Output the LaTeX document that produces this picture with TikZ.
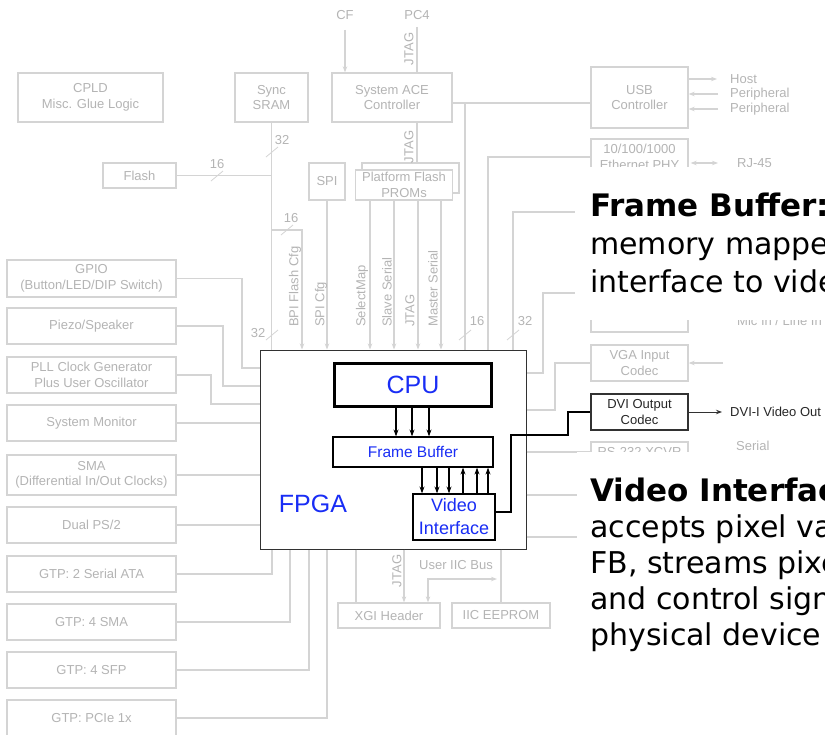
\documentclass[tikz,border=0pt]{standalone}
\usepackage{fontspec}
\setmainfont{Liberation Sans}
\newfontfamily\notefont{DejaVu Sans}
\usetikzlibrary{arrows.meta,positioning,calc}

\definecolor{lgray}{RGB}{212,212,212}
\definecolor{tgray}{RGB}{180,180,180}
\definecolor{fpgablue}{RGB}{25,45,245}
\definecolor{dkgray}{RGB}{50,50,50}

\tikzset{
  gtext/.style={text=tgray, font=\fontsize{13}{15.5}\selectfont, inner sep=0pt, align=center},
  gbox/.style={gtext, draw=lgray, line width=1.3pt, fill=white},
  leftbox/.style={gbox, minimum width=169pt, minimum height=36pt},
  gline/.style={draw=lgray, line width=1.4pt},
  garrow/.style={gline, -{Stealth[length=6pt,width=4.5pt]}},
  vlabel/.style={gtext, rotate=90},
  inbox/.style={draw=black, line width=1.2pt, fill=white, text=fpgablue, align=center, inner sep=0pt},
  inarrow/.style={draw=black, line width=1.1pt, -{Stealth[length=7pt,width=5pt]}},
  note/.style={font=\notefont\fontsize{30}{37}\selectfont, anchor=base west, inner sep=0pt},
  notehead/.style={note, font=\notefont\bfseries\fontsize{31}{37}\selectfont},
}

\begin{document}
\begin{tikzpicture}[x=1pt, y=-1pt]
    \useasboundingbox (0,0) rectangle (825,734);
    \clip (0,0) rectangle (825,734);

    % top row
    \node[gbox, minimum width=145pt, minimum height=49pt] (cpld) at (90.5,97.5) {CPLD\\Misc. Glue Logic};
    \node[gbox, minimum width=73pt, minimum height=49pt] (sram) at (271.5,97.5) {Sync\\SRAM};
    \node[gbox, minimum width=120pt, minimum height=49pt] (ace) at (392,97.5) {System ACE\\Controller};
    \node[gbox, minimum width=97pt, minimum height=61pt] (usb) at (639.5,97.5) {USB\\Controller};
    \node[gbox, minimum width=97pt, minimum height=36pt] (eth) at (639.5,157) {10/100/1000\\Ethernet PHY};
    \node[gtext] (cf) at (345,15) {CF};
    \node[gtext] (pc4) at (417,15) {PC4};
    \node[gtext, anchor=west] (host) at (730,79) {Host};
    \node[gtext, anchor=west] (per1) at (730,94) {Peripheral};
    \node[gtext, anchor=west] (per2) at (730,109) {Peripheral};
    \node[gtext, anchor=west] (rj45) at (737,163) {RJ-45};

    % configuration parts
    \node[gbox, minimum width=73pt, minimum height=25pt] (flash) at (139.5,175.5) {Flash};
    \node[gbox, minimum width=36pt, minimum height=37pt] (spi) at (327,181.5) {SPI};
    \node[gbox, minimum width=97pt, minimum height=30pt] (promb) at (410.5,178) {};
    \node[gbox, minimum width=97pt, minimum height=30pt] (prom) at (404,185) {Platform Flash\\PROMs};

    % left column
    \node[leftbox, minimum height=37pt] (gpio) at (91.5,278.5) {GPIO\\(Button/LED/DIP Switch)};
    \node[leftbox] (piezo) at (91.5,326) {Piezo/Speaker};
    \node[leftbox] (pll) at (91.5,375) {PLL Clock Generator\\Plus User Oscillator};
    \node[leftbox] (sysmon) at (91.5,423) {System Monitor};
    \node[leftbox, minimum height=40pt] (sma) at (91.5,475) {SMA\\(Differential In/Out Clocks)};
    \node[leftbox] (ps2) at (91.5,525) {Dual PS/2};
    \node[leftbox] (sata) at (91.5,574) {GTP: 2 Serial ATA};
    \node[leftbox] (gsma) at (91.5,622) {GTP: 4 SMA};
    \node[leftbox] (sfp) at (91.5,670) {GTP: 4 SFP};
    \node[leftbox] (pcie) at (91.5,718) {GTP: PCIe 1x};

    % right column
    \node[gbox, minimum width=97pt, minimum height=48pt] (mic) at (639.5,308) {};
    \node[gtext, anchor=west] (micin) at (737,321) {Mic In / Line In};
    \node[gbox, minimum width=97pt, minimum height=36pt] (vga) at (639.5,363) {VGA Input\\Codec};
    \node[gtext, draw=dkgray, line width=1.6pt, fill=white, text=black!85, minimum width=97pt, minimum height=36pt] (dvi) at (639.5,412) {DVI Output\\Codec};
    \node[gtext, anchor=west, text=black!85] (dviout) at (730,412) {DVI-I Video Out};
    \node[gbox, minimum width=97pt, minimum height=36pt, text depth=17pt] (rs232) at (639.5,460) {RS-232 XCVR};
    \node[gtext, anchor=west] (serial) at (736,446) {Serial};

    % bottom row
    \node[gbox, minimum width=102pt, minimum height=25pt] (xgi) at (389,615.5) {XGI Header};
    \node[gbox, minimum width=98pt, minimum height=25pt] (eeprom) at (501,615.5) {IIC EEPROM};
    \node[gtext] (iicbus) at (456,565) {User IIC Bus};

    % FPGA
    \node[draw=dkgray, line width=1pt, fill=white, minimum width=266pt, minimum height=199pt] (fpga) at (393,449.5) {};
    \node[inbox, line width=3.2pt, minimum width=157pt, minimum height=43pt, font=\fontsize{25}{28}\selectfont] (cpu) at (413,385) {CPU};
    \node[inbox, minimum width=160pt, minimum height=30pt, font=\fontsize{15.5}{17}\selectfont] (fb) at (413,452) {Frame Buffer};
    \node[inbox, minimum width=82pt, minimum height=46pt, font=\fontsize{18}{23}\selectfont] (vi) at (454,517) {Video\\Interface};
    \node[text=fpgablue, font=\fontsize{25}{28}\selectfont, inner sep=0pt] (fpgalabel) at (313,504) {FPGA};

    % top connections
    \draw[garrow, shorten <=10pt] (cf.south) -- (cf.south |- ace.north);
    \draw[gline, shorten <=7pt] (pc4.south) -- (pc4.south |- ace.north);
    \draw[gline] (pc4.south |- ace.south) -- (pc4.south |- promb.north);
    \node[vlabel] (jtag1) at (409,49) {JTAG};
    \node[vlabel] (jtag2) at (409,147) {JTAG};
    \draw[gline] (ace.east |- 0,103) -- (usb.west |- 0,103);
    \coordinate (acej) at (465,103);
    \draw[gline] (acej) -- (fpga.north -| acej);
    \draw[gline] (eth.west) -| (fpga.north -| 488,0);
    \coordinate (hidbus) at (600,212);
    \draw[gline] (hidbus) -| (fpga.north -| 513,0);
    \draw[garrow, shorten >=13pt] (usb.east |- host.west) -- (host.west);
    \draw[garrow, shorten <=12pt] (per1.west) -- (usb.east |- per1.west);
    \draw[garrow, shorten <=12pt] (per2.west) -- (usb.east |- per2.west);
    \draw[gline, {Stealth[length=6pt,width=4.5pt]}-{Stealth[length=6pt,width=4.5pt]}, shorten <=2pt, shorten >=19pt] (eth.east |- rj45.west) -- (rj45.west);

    % memory and configuration buses
    \draw[gline] (sram.south) -- (sram.south |- fpga.north);
    \draw[gline] (flash.east) -- (sram.south |- flash.east);
    \draw[garrow] (sram.south |- 0,230) -| (fpga.north -| 302,0);
    \draw[garrow] (spi.south) -- (spi.south |- fpga.north);
    \foreach \x in {370,394,418,441}
        \draw[garrow] (prom.south -| \x,0) -- (fpga.north -| \x,0);
    \foreach \x/\t in {295/BPI Flash Cfg, 321/SPI Cfg, 362/SelectMap, 387/Slave Serial, 410/JTAG, 433/Master Serial}
        \node[vlabel, anchor=west] (cfg\x) at (\x,327) {\t};

    % bus widths
    \foreach \x/\y/\lx/\ly/\n in {272/152/282/140/32, 217/176/217/164/16, 287/230/291/218/16, 272/335/258/333/32, 465/335/477/321/16, 513/335/525/321/32} {
        \draw[gline, line width=0.8pt] (\x-6,\y+5) -- (\x+6,\y-5);
        \node[gtext] (bus\x\y) at (\lx,\ly) {\n};
    }

    % left connections
    \draw[gline] (gpio.east) -| (242,368) -- (fpga.west |- 0,368);
    \draw[gline] (piezo.east) -| (223,386) -- (fpga.west |- 0,386);
    \draw[gline] (pll.east) -| (211,404) -- (fpga.west |- 0,404);
    \draw[gline] (sysmon.east) -- (fpga.west |- sysmon.east);
    \draw[gline] (sma.east) -- (fpga.west |- sma.east);
    \draw[gline] (ps2.east) -- (fpga.west |- ps2.east);
    \draw[gline] (sata.east) -| (fpga.south -| 272,0);
    \draw[gline] (gsma.east) -| (fpga.south -| 290,0);
    \draw[gline] (sfp.east) -| (fpga.south -| 309,0);
    \draw[gline] (pcie.east) -| (fpga.south -| 327,0);

    % bottom connections
    \draw[gline] (fpga.south -| 356,0) -- (xgi.north -| 356,0);
    \draw[garrow] (fpga.south -| 404,0) -- (xgi.north -| 404,0);
    \node[vlabel] (jtag3) at (397,571) {JTAG};
    \draw[gline] (fpga.south -| eeprom.north) -- (eeprom.north);
    \draw[gline, {Stealth[length=6pt,width=4.5pt]}-{Stealth[length=6pt,width=4.5pt]}, shorten >=4pt] (xgi.north -| 428,0) |- (eeprom.north |- 0,579);

    % right connections
    \draw[gline] (mic.west |- 0,293) -| (543,373) -- (fpga.east |- 0,373);
    \draw[gline] (vga.west) -| (555,410) -- (fpga.east |- 0,410);
    \coordinate (vgain) at (723,363);
    \draw[garrow] (vgain) -- (vga.east);
    \foreach \y in {452,495,537}
        \draw[gline] (fpga.east |- 0,\y) -- (rs232.west |- 0,\y);

    % video path
    \foreach \x in {396,412,429}
        \draw[inarrow] (cpu.south -| \x,0) -- (fb.north -| \x,0);
    \foreach \x in {422,437,449}
        \draw[inarrow] (fb.south -| \x,0) -- (vi.north -| \x,0);
    \foreach \x in {463,477,488}
        \draw[inarrow] (vi.north -| \x,0) -- (fb.south -| \x,0);
    \draw[line width=2.6pt] (vi.east |- 0,512) -- (511,512) |- (568,435) |- (dvi.west);
    \draw[dkgray, line width=1pt, -{Stealth[length=6pt,width=4.5pt]}, shorten >=8pt] (dvi.east) -- (dviout.west);

    % notes
    \fill[white] (575,167) rectangle (825,320);
    \fill[white] (577,452) rectangle (825,734);
    \node[notehead] (fbhead) at (590,216) {Frame Buffer:};
    \node[note] (fbline1) at (590,254) {memory mapped};
    \node[note] (fbline2) at (590,292) {interface to video};
    \node[notehead] (vihead) at (590,501) {Video Interface:};
    \node[note] (viline1) at (590,537) {accepts pixel values from};
    \node[note] (viline2) at (590,573) {FB, streams pixels};
    \node[note] (viline3) at (590,609) {and control signals to};
    \node[note] (viline4) at (590,645) {physical device};
\end{tikzpicture}
\end{document}
